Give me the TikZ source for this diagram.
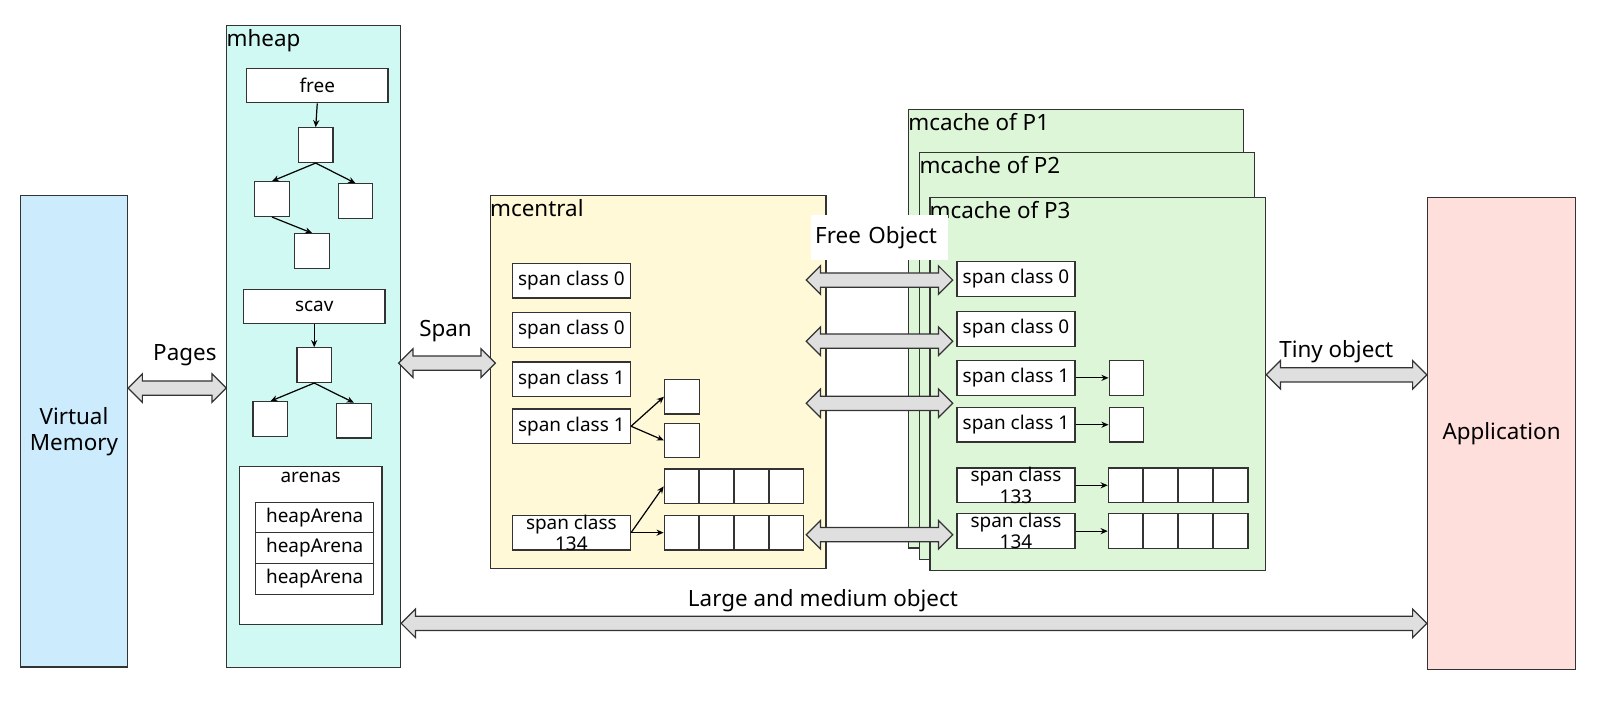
\documentclass[tikz,border=0pt]{standalone}
\usepackage{fontspec}
\setmainfont{Noto Sans}
\usetikzlibrary{calc,arrows.meta}

\definecolor{vmblue}{HTML}{CCEBFC}
\definecolor{heapcyan}{HTML}{D0F9F4}
\definecolor{centralyellow}{HTML}{FFF9D8}
\definecolor{cachegreen}{HTML}{DEF6D8}
\definecolor{apppink}{HTML}{FFDFDC}
\definecolor{linegray}{HTML}{333333}

\tikzset{
  every node/.style={font=\fontsize{9.3}{10.5}\selectfont},
  bigtext/.style={font=\fontsize{11}{13}\selectfont},
  area/.style={draw=linegray, line width=0.6pt, inner sep=0pt},
  box/.style={draw=linegray, fill=white, line width=0.6pt, inner sep=0pt},
  spanbox/.style={box, minimum width=58pt, minimum height=17pt},
  cell/.style={box, minimum width=17pt, minimum height=17pt},
  twolines/.style={align=center, inner sep=0pt},
  link/.style={-{Stealth[length=3.5pt,width=3pt]}, line width=0.6pt},
  fatarrow/.style={draw=linegray, fill=gray!25, line width=0.6pt},
  areatitle/.style={bigtext, anchor=north west, inner xsep=0pt, inner ysep=2.2pt},
}

% a fat double arrow from one point to another, at height #3
\newcommand\fatarrow[3]{%
  \draw[fatarrow] let \p1=#1, \p2=#2, \p3=(0,#3) in
    (\x1,\y3) -- (\x1+7pt,\y3+7pt) -- (\x1+7pt,\y3+3.5pt)
    -- (\x2-7pt,\y3+3.5pt) -- (\x2-7pt,\y3+7pt) -- (\x2,\y3)
    -- (\x2-7pt,\y3-7pt) -- (\x2-7pt,\y3-3.5pt)
    -- (\x1+7pt,\y3-3.5pt) -- (\x1+7pt,\y3-7pt) -- cycle;}

\begin{document}
\begin{tikzpicture}[x=0.5pt, y=-0.5pt]
\useasboundingbox (0,0) rectangle (1568,694);

% virtual memory and application
\node[area, fill=vmblue, minimum width=52.6pt, minimum height=231.3pt, bigtext, align=center] (vm) at (72.6,423.6) {Virtual\\Memory};
\node[area, fill=apppink, minimum width=72.75pt, minimum height=231.5pt, bigtext] (app) at (1474.3,425.5) {Application};

% mheap
\node[area, fill=heapcyan, minimum width=85.3pt, minimum height=314.9pt] (mheap) at (308,340.1) {};
\node[areatitle] (mheaptitle) at (mheap.north west) {mheap};
\node[box, minimum width=69.5pt, minimum height=17pt] (free) at (311.5,84) {free};
\node[cell] (fr1) at (310,142.5) {};
\node[cell] (fr2) at (267,195.5) {};
\node[cell] (fr3) at (349,197.5) {};
\node[cell] (fr4) at (306.5,246.5) {};
\draw[link] (free.south) -- (fr1.north);
\draw[link] (fr1.south) -- (fr2.north);
\draw[link] (fr1.south) -- (fr3.north);
\draw[link] (fr2.south) -- (fr4.north);
\node[box, minimum width=69.5pt, minimum height=17pt] (scav) at (308.5,301) {scav};
\node[cell] (sc1) at (308.5,358.5) {};
\node[cell] (sc2) at (265.5,411.5) {};
\node[cell] (sc3) at (347.5,413) {};
\draw[link] (scav.south) -- (sc1.north);
\draw[link] (sc1.south) -- (sc2.north);
\draw[link] (sc1.south) -- (sc3.north);
% arenas
\node[box, minimum width=70pt, minimum height=77.5pt] (arenas) at (305,535.5) {};
\node[anchor=north, inner sep=3pt] (arenastitle) at (arenas.north) {arenas};
\foreach \ha/\n in {508.5/1, 538/2, 568.5/3}
  \node[box, minimum width=58pt, minimum height=15pt] (ha\n) at (309,\ha) {heapArena};

% mcache of P1, P2, P3
\node[area, fill=cachegreen, minimum width=164.3pt, minimum height=215.4pt] (p1) at (1056.3,322.6) {};
\node[areatitle] (p1title) at (p1.north west) {mcache of P1};
\node[area, fill=cachegreen, minimum width=164.4pt, minimum height=199.6pt] (p2) at (1067.4,349.4) {};
\node[areatitle] (p2title) at (p2.north west) {mcache of P2};
\node[area, fill=cachegreen, minimum width=164.8pt, minimum height=183.2pt] (p3) at (1077.8,376.8) {};
\node[areatitle] (p3title) at (p3.north west) {mcache of P3};
\node[spanbox] (ps0a) at (997.5,274) {span class 0};
\node[spanbox] (ps0b) at (997.5,323) {span class 0};
\node[spanbox] (ps1a) at (997.5,371) {span class 1};
\node[spanbox] (ps1b) at (997.5,417) {span class 1};
\node[spanbox, label={[twolines]center:span class\\133}] (ps133) at (997.5,476.5) {};
\node[spanbox, label={[twolines]center:span class\\134}] (ps134) at (997.5,521.5) {};
\node[cell] (pone1) at (1106,371) {};
\node[cell] (pone2) at (1106,417) {};
\foreach \i in {0,...,3} {
  \node[cell] (prowa\i) at (1105.2+34.4*\i,476.5) {};
  \node[cell] (prowb\i) at (1105.2+34.4*\i,521.5) {};
}
\draw[link] (ps1a.east) -- (pone1.west);
\draw[link] (ps1b.east) -- (pone2.west);
\draw[link] (ps133.east) -- (prowa0.west);
\draw[link] (ps134.east) -- (prowb0.west);

% mcentral
\node[area, fill=centralyellow, minimum width=164.8pt, minimum height=183pt] (mcentral) at (646.2,375) {};
\node[areatitle] (mcentraltitle) at (mcentral.north west) {mcentral};
\node[spanbox] (ms0a) at (561,275.5) {span class 0};
\node[spanbox] (ms0b) at (561,324) {span class 0};
\node[spanbox] (ms1a) at (561,372.5) {span class 1};
\node[spanbox] (ms1b) at (561,418.5) {span class 1};
\node[spanbox, label={[twolines]center:span class\\134}] (ms134) at (561,523) {};
\node[cell] (mone1) at (669.5,389.5) {};
\node[cell] (mone2) at (669.5,432.5) {};
\foreach \i in {0,...,3} {
  \node[cell] (mrowa\i) at (669.2+34.3*\i,477.5) {};
  \node[cell] (mrowb\i) at (669.2+34.3*\i,523) {};
}
\draw[link] (ms1b.east) -- (mone1.west);
\draw[link] (ms1b.east) -- (mone2.west);
\draw[link] (ms134.east) -- (mrowa0.west);
\draw[link] (ms134.east) -- (mrowb0.west);

% labels
\node[fill=white, anchor=west, bigtext, inner xsep=2pt, text width=63pt, minimum height=22pt, align=left] (freelbl) at (796,233) {Free Object};
\node[bigtext] (pageslbl) at (181.5,349) {Pages};
\node[bigtext] (spanlbl) at (437.5,325) {Span};
\node[bigtext] (tinylbl) at (1312,345) {Tiny object};
\node[bigtext] (largelbl) at (808,590) {Large and medium object};

% fat arrows
\fatarrow{(vm.east)}{(mheap.west)}{381}
\fatarrow{($(mheap.east)+(-2.5,0)$)}{($(mcentral.west)+(5.5,0)$)}{356.5}
\foreach \lev in {275,335,396,525} {
  \fatarrow{($(mcentral.east)+(-20,0)$)}{($(ps0a.west)+(-3.5,0)$)}{\lev}
}
\fatarrow{(p3.east)}{(app.west)}{368}
\fatarrow{(mheap.east)}{(app.west)}{612}
\end{tikzpicture}
\end{document}
